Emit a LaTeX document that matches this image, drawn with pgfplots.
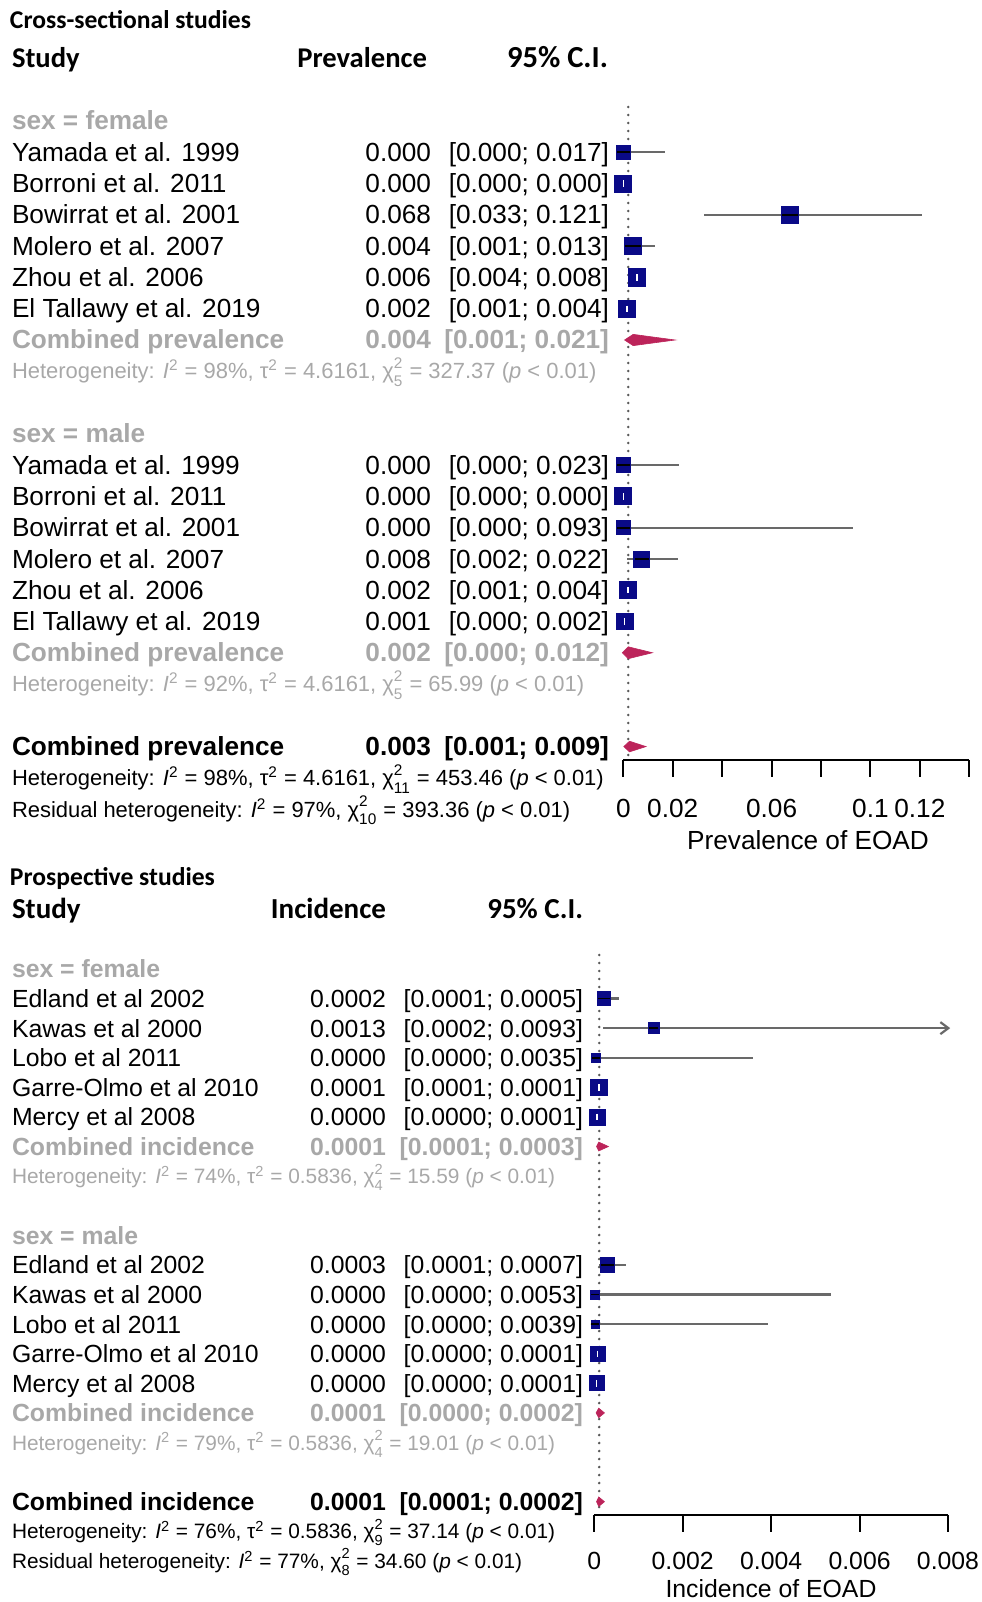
\documentclass[border=0pt]{standalone}
\usepackage{fontspec}
\setmainfont{Liberation Sans}
\newfontfamily\hdrfont{Carlito}
\usepackage{pgfplots}
\usepackage{pgfplotstable}
\pgfplotsset{compat=1.18}
\usetikzlibrary{arrows.meta}

\definecolor{navy}{RGB}{10,10,135}
\definecolor{cigray}{RGB}{105,105,105}
\definecolor{txtgray}{RGB}{168,168,168}
\definecolor{dia}{RGB}{188,36,90}
\definecolor{refgray}{RGB}{90,90,90}

\newcommand{\chisq}[1]{χ\makebox[0pt][l]{\raisebox{0.2ex}{\textsuperscript{2}}}\raisebox{-0.35ex}{\textsubscript{#1}}}
\newcommand{\het}[4]{Heterogeneity: \textit{I}\textsuperscript{2} = #1, τ\textsuperscript{2} = #2, \chisq{#3} = #4 (\textit{p} < 0.01)}
\newcommand{\resid}[3]{Residual heterogeneity: \textit{I}\textsuperscript{2} = #1, \chisq{#2} = #3 (\textit{p} < 0.01)}

% Cross-sectional: row, estimate, CI, marker half-size (pt), CI inside square (1)
\pgfplotstableread{
r est lo hi s w
1 0.0000 0.0000 0.0170 3.6 0
2 0.0000 0.0000 0.0000 4.25 1
3 0.0675 0.0325 0.1210 4.25 0
4 0.0040 0.0010 0.0130 4.3 0
5 0.0055 0.0040 0.0080 4.3 1
6 0.0015 0.0010 0.0040 4.2 1
11 0.0000 0.0000 0.0225 3.6 0
12 0.0000 0.0000 0.0000 4.25 1
13 0.0000 0.0000 0.0930 3.6 0
14 0.0075 0.0015 0.0220 4.0 0
15 0.0018 0.0010 0.0040 4.2 1
16 0.0005 0.0000 0.0020 4.2 1
}\prevtab

% Prospective
\pgfplotstableread{
r est lo hi s w
1 0.00022 0.00010 0.00055 3.4 0
2 0.00134 0.00134 0.00134 2.7 0
3 0.00003 0.00000 0.00360 2.25 0
4 0.00010 0.00008 0.00012 4.2 1
5 0.00006 0.00000 0.00010 4.0 1
10 0.00029 0.00010 0.00072 3.6 0
11 0.00002 0.00000 0.00535 2.2 0
12 0.00002 0.00000 0.00393 2.1 0
13 0.00007 0.00000 0.00010 3.75 1
14 0.00005 0.00000 0.00010 3.75 1
}\inctab

\pgfplotsset{
  forest/.style={
    scale only axis, anchor=north west, clip=false,
    axis x line*=bottom, axis y line=none,
    x axis line style={-, line width=1pt, black},
    tick align=outside, major tick length=8.4pt,
    tick style={line width=1pt, black},
    ytick=\empty,
  },
  cilines/.style={only marks, mark=none,
    error bars/.cd, x dir=both, x explicit, error mark=none,
    error bar style={cigray, line width=1.1pt}},
  squares/.style={scatter, only marks, mark=square*,
    scatter/use mapped color={draw=navy, fill=navy},
    visualization depends on={\thisrow{s} \as \ms},
    scatter/@pre marker code/.append style={/tikz/mark size=\ms}},
  innerblack/.style={scatter, only marks, mark=-,
    restrict expr to domain={\thisrow{w}}{0:0},
    scatter/use mapped color={draw=black, fill=black},
    mark options={line width=0.9pt},
    visualization depends on={\thisrow{s}*0.9 \as \ms},
    scatter/@pre marker code/.append style={/tikz/mark size=\ms}},
  innerwhite/.style={only marks, mark=|, mark size=1.6pt,
    mark options={white, line width=0.8pt},
    restrict expr to domain={\thisrow{w}}{1:1},
    error bars/.cd, x dir=both, x explicit, error mark=none,
    error bar style={white, line width=0.8pt}},
  refline/.style={refgray, line width=1.4pt, dash pattern=on 0pt off 4pt, line cap=round},
}

\begin{document}
\begin{tikzpicture}
\useasboundingbox (0,0) rectangle (490.5pt,-801pt);

% ================= Cross-sectional =================
\begin{axis}[forest,
  at={(311.65pt,-53.5pt)}, width=173pt, height=326.5pt,
  xmin=0, xmax=0.14, ymin=-20.43, ymax=0.45,
  xtick={0,0.02,0.04,0.06,0.08,0.1,0.12,0.14},
  xticklabels={0,0.02,,0.06,,0.1,0.12,},
  xticklabel style={font=\fontsize{13.1}{15}\selectfont, anchor=base, yshift=-20.2pt},
]
\addplot[refline] coordinates {(0.002,0.45) (0.002,-20.3)};
\addplot[cilines] table[x=est, y expr=-\thisrow{r},
  x error plus expr=\thisrow{hi}-\thisrow{est}, x error minus expr=\thisrow{est}-\thisrow{lo}]{\prevtab};
\addplot[squares] table[x=est, y expr=-\thisrow{r}]{\prevtab};
\addplot[innerblack] table[x=est, y expr=-\thisrow{r}]{\prevtab};
\addplot[innerwhite] table[x=est, y expr=-\thisrow{r},
  x error plus expr=\thisrow{hi}-\thisrow{est}, x error minus expr=\thisrow{est}-\thisrow{lo}]{\prevtab};
\addplot[fill=dia, draw=dia, line width=0.3pt] coordinates {(0.0005,-7) (0.004,-6.82) (0.021,-7) (0.004,-7.18)} --cycle;
\addplot[fill=dia, draw=dia, line width=0.3pt] coordinates {(-0.0004,-17) (0.002,-16.81) (0.0118,-17) (0.002,-17.19)} --cycle;
\addplot[fill=dia, draw=dia, line width=0.3pt] coordinates {(0.0002,-20) (0.0025,-19.83) (0.0092,-20) (0.0025,-20.17)} --cycle;
\end{axis}

\begin{scope}[x=0.5pt, y=-15.65pt, yshift=-60.3pt,
  every node/.style={inner sep=0pt, outer sep=0pt, font=\fontsize{13.1}{15}\selectfont},
  L/.style={anchor=base west, yshift=-4.6pt},
  R/.style={anchor=base east, yshift=-4.6pt},
  H/.style={anchor=base west, yshift=-3.9pt, font=\fontsize{10.98}{13}\selectfont},
  T/.style={anchor=base west, yshift=-4.1pt, font=\hdrfont\bfseries\fontsize{12.8}{14}\selectfont},
  HD/.style={yshift=-4.6pt, font=\hdrfont\bfseries\fontsize{14.3}{16}\selectfont}]
\node[T] at (10,-3.2) {Cross-sectional studies};
\node[HD, anchor=base west] at (12,-2) {Study};
\node[HD, anchor=base east] at (427,-2) {Prevalence};
\node[HD, anchor=base east, font=\hdrfont\bfseries\fontsize{15.3}{17}\selectfont] at (608,-2) {95\% C.I.};

\node[L, text=txtgray, font=\fontsize{13.1}{15}\selectfont\bfseries] at (12,0) {sex = female};
\node[L] at (12,1) {Yamada et al. 1999};   \node[R] at (431,1) {0.000}; \node[R] at (609,1) {[0.000; 0.017]};
\node[L] at (12,2) {Borroni et al. 2011};  \node[R] at (431,2) {0.000}; \node[R] at (609,2) {[0.000; 0.000]};
\node[L] at (12,3) {Bowirrat et al. 2001}; \node[R] at (431,3) {0.068}; \node[R] at (609,3) {[0.033; 0.121]};
\node[L] at (12,4) {Molero et al. 2007};   \node[R] at (431,4) {0.004}; \node[R] at (609,4) {[0.001; 0.013]};
\node[L] at (12,5) {Zhou et al. 2006};     \node[R] at (431,5) {0.006}; \node[R] at (609,5) {[0.004; 0.008]};
\node[L] at (12,6) {El Tallawy et al. 2019}; \node[R] at (431,6) {0.002}; \node[R] at (609,6) {[0.001; 0.004]};
\begin{scope}[every node/.append style={text=txtgray, font=\fontsize{13.1}{15}\selectfont\bfseries}]
\node[L] at (12,7) {Combined prevalence}; \node[R] at (431,7) {0.004}; \node[R] at (609,7) {[0.001; 0.021]};
\end{scope}
\node[H, text=txtgray] at (12,8) {\het{98\%}{4.6161}{5}{327.37}};

\node[L, text=txtgray, font=\fontsize{13.1}{15}\selectfont\bfseries] at (12,10) {sex = male};
\node[L] at (12,11) {Yamada et al. 1999};   \node[R] at (431,11) {0.000}; \node[R] at (609,11) {[0.000; 0.023]};
\node[L] at (12,12) {Borroni et al. 2011};  \node[R] at (431,12) {0.000}; \node[R] at (609,12) {[0.000; 0.000]};
\node[L] at (12,13) {Bowirrat et al. 2001}; \node[R] at (431,13) {0.000}; \node[R] at (609,13) {[0.000; 0.093]};
\node[L] at (12,14) {Molero et al. 2007};   \node[R] at (431,14) {0.008}; \node[R] at (609,14) {[0.002; 0.022]};
\node[L] at (12,15) {Zhou et al. 2006};     \node[R] at (431,15) {0.002}; \node[R] at (609,15) {[0.001; 0.004]};
\node[L] at (12,16) {El Tallawy et al. 2019}; \node[R] at (431,16) {0.001}; \node[R] at (609,16) {[0.000; 0.002]};
\begin{scope}[every node/.append style={text=txtgray, font=\fontsize{13.1}{15}\selectfont\bfseries}]
\node[L] at (12,17) {Combined prevalence}; \node[R] at (431,17) {0.002}; \node[R] at (609,17) {[0.000; 0.012]};
\end{scope}
\node[H, text=txtgray] at (12,18) {\het{92\%}{4.6161}{5}{65.99}};

\begin{scope}[every node/.append style={font=\fontsize{13.1}{15}\selectfont\bfseries}]
\node[L] at (12,20) {Combined prevalence}; \node[R] at (431,20) {0.003}; \node[R] at (609,20) {[0.001; 0.009]};
\end{scope}
\node[H] at (12,21) {\het{98\%}{4.6161}{11}{453.46}};
\node[H] at (12,22) {\resid{97\%}{10}{393.36}};
\node[anchor=base, yshift=-4.6pt] at (808,22.98) {Prevalence of EOAD};
\end{scope}

% ================= Prospective =================
\begin{axis}[forest,
  at={(297.15pt,-477.5pt)}, width=176.85pt, height=280pt,
  xmin=0, xmax=0.008, ymin=-18.45, ymax=0.47,
  xtick={0,0.002,0.004,0.006,0.008},
  xticklabels={0,0.002,0.004,0.006,0.008},
  xticklabel style={font=\fontsize{12.4}{14}\selectfont, anchor=base, yshift=-19pt},
]
\addplot[refline] coordinates {(0.00011,0.47) (0.00011,-18.3)};
\addplot[cilines] table[x=est, y expr=-\thisrow{r},
  x error plus expr=\thisrow{hi}-\thisrow{est}, x error minus expr=\thisrow{est}-\thisrow{lo}]{\inctab};
\addplot[cigray, line width=1.1pt, -{Straight Barb[length=4pt, width=6pt]}]
  coordinates {(0.0002,-2) (0.00805,-2)};
\addplot[squares] table[x=est, y expr=-\thisrow{r}]{\inctab};
\addplot[innerblack] table[x=est, y expr=-\thisrow{r}]{\inctab};
\addplot[innerwhite] table[x=est, y expr=-\thisrow{r},
  x error plus expr=\thisrow{hi}-\thisrow{est}, x error minus expr=\thisrow{est}-\thisrow{lo}]{\inctab};
\addplot[fill=dia, draw=dia, line width=0.3pt] coordinates {(0.00005,-6) (0.0001,-5.85) (0.00032,-6) (0.0001,-6.15)} --cycle;
\addplot[fill=dia, draw=dia, line width=0.3pt] coordinates {(0.00004,-15) (0.0001,-14.84) (0.00023,-15) (0.0001,-15.16)} --cycle;
\addplot[fill=dia, draw=dia, line width=0.3pt] coordinates {(0.00005,-18) (0.0001,-17.84) (0.00023,-18) (0.0001,-18.16)} --cycle;
\end{axis}

\begin{scope}[x=0.5pt, y=-14.8pt, yshift=-484.5pt,
  every node/.style={inner sep=0pt, outer sep=0pt, font=\fontsize{12.4}{14}\selectfont},
  L/.style={anchor=base west, yshift=-4.4pt},
  R/.style={anchor=base east, yshift=-4.4pt},
  H/.style={anchor=base west, yshift=-3.7pt, font=\fontsize{10.42}{12}\selectfont},
  T/.style={anchor=base west, yshift=-4.1pt, font=\hdrfont\bfseries\fontsize{12.8}{14}\selectfont},
  HD/.style={yshift=-4.4pt, font=\hdrfont\bfseries\fontsize{14.5}{16}\selectfont}]
\node[T] at (10,-3.1) {Prospective studies};
\node[HD, anchor=base west] at (12,-2) {Study};
\node[HD, anchor=base east] at (386,-2) {Incidence};
\node[HD, anchor=base east] at (583,-2) {95\% C.I.};

\node[L, text=txtgray, font=\fontsize{12.4}{14}\selectfont\bfseries] at (12,0) {sex = female};
\node[L] at (12,1) {Edland et al 2002};     \node[R] at (386,1) {0.0002}; \node[R] at (583,1) {[0.0001; 0.0005]};
\node[L] at (12,2) {Kawas et al 2000};      \node[R] at (386,2) {0.0013}; \node[R] at (583,2) {[0.0002; 0.0093]};
\node[L] at (12,3) {Lobo et al 2011};       \node[R] at (386,3) {0.0000}; \node[R] at (583,3) {[0.0000; 0.0035]};
\node[L] at (12,4) {Garre-Olmo et al 2010}; \node[R] at (386,4) {0.0001}; \node[R] at (583,4) {[0.0001; 0.0001]};
\node[L] at (12,5) {Mercy et al 2008};      \node[R] at (386,5) {0.0000}; \node[R] at (583,5) {[0.0000; 0.0001]};
\begin{scope}[every node/.append style={text=txtgray, font=\fontsize{12.4}{14}\selectfont\bfseries}]
\node[L] at (12,6) {Combined incidence}; \node[R] at (386,6) {0.0001}; \node[R] at (583,6) {[0.0001; 0.0003]};
\end{scope}
\node[H, text=txtgray] at (12,7) {\het{74\%}{0.5836}{4}{15.59}};

\node[L, text=txtgray, font=\fontsize{12.4}{14}\selectfont\bfseries] at (12,9) {sex = male};
\node[L] at (12,10) {Edland et al 2002};     \node[R] at (386,10) {0.0003}; \node[R] at (583,10) {[0.0001; 0.0007]};
\node[L] at (12,11) {Kawas et al 2000};      \node[R] at (386,11) {0.0000}; \node[R] at (583,11) {[0.0000; 0.0053]};
\node[L] at (12,12) {Lobo et al 2011};       \node[R] at (386,12) {0.0000}; \node[R] at (583,12) {[0.0000; 0.0039]};
\node[L] at (12,13) {Garre-Olmo et al 2010}; \node[R] at (386,13) {0.0000}; \node[R] at (583,13) {[0.0000; 0.0001]};
\node[L] at (12,14) {Mercy et al 2008};      \node[R] at (386,14) {0.0000}; \node[R] at (583,14) {[0.0000; 0.0001]};
\begin{scope}[every node/.append style={text=txtgray, font=\fontsize{12.4}{14}\selectfont\bfseries}]
\node[L] at (12,15) {Combined incidence}; \node[R] at (386,15) {0.0001}; \node[R] at (583,15) {[0.0000; 0.0002]};
\end{scope}
\node[H, text=txtgray] at (12,16) {\het{79\%}{0.5836}{4}{19.01}};

\begin{scope}[every node/.append style={font=\fontsize{12.4}{14}\selectfont\bfseries}]
\node[L] at (12,18) {Combined incidence}; \node[R] at (386,18) {0.0001}; \node[R] at (583,18) {[0.0001; 0.0002]};
\end{scope}
\node[H] at (12,19) {\het{76\%}{0.5836}{9}{37.14}};
\node[H] at (12,20) {\resid{77\%}{8}{34.60}};
\node[anchor=base, yshift=-3.6pt] at (771,20.98) {Incidence of EOAD};
\end{scope}
\end{tikzpicture}
\end{document}
